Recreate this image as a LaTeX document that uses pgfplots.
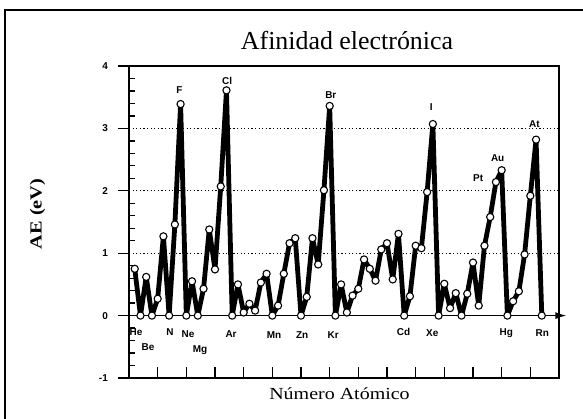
\documentclass[border=0pt]{standalone}
\usepackage{fontspec}
\setmainfont{Liberation Serif}
\setsansfont{Liberation Sans}
\usepackage{pgfplots}
\pgfplotsset{compat=1.18}
\usetikzlibrary{arrows.meta}
\begin{document}
\begin{tikzpicture}
\begin{axis}[
  at={(0,0)}, anchor=south west,
  scale only axis, width=430bp, height=312bp,
  xmin=0, xmax=75, ymin=-1, ymax=4,
  axis line style={line width=1.3bp},
  tick align=inside,
  xtick={5,10,...,70}, xticklabels={},
  xtick pos=left, ytick pos=left,
  ytick={-1,0,1,2,3,4}, yticklabels={-1,0,1,2,3,4},
  minor y tick num=4,
  major tick length=11bp, minor tick length=6bp,
  tick style={black, line width=1.3bp},
  every major y tick/.append style={xshift=-11bp},
  yticklabel style={font=\sffamily\bfseries\fontsize{10}{12}\selectfont, anchor=east, inner sep=0pt, xshift=-21bp},
  ymajorgrids, grid style={black, line width=0.8bp, dash pattern=on 1.2bp off 2.4bp},
  clip=false,
]
\draw[line width=1.5bp, -{Latex[length=11bp,width=7bp]}] (axis cs:0,0) -- (axis cs:76.3,0);
\addplot[black, line width=4.8bp, line join=round, mark=*, mark size=3.6bp,
  mark options={fill=white, draw=black, line width=1.1bp, solid}] coordinates {
(1,0.75) (2,0) (3,0.62) (4,0) (5,0.27) (6,1.27) (7,0) (8,1.46) (9,3.39) (10,0)
(11,0.55) (12,0) (13,0.43) (14,1.38) (15,0.74) (16,2.07) (17,3.61) (18,0)
(19,0.50) (20,0.05) (21,0.19) (22,0.08) (23,0.53) (24,0.67) (25,0) (26,0.16)
(27,0.67) (28,1.16) (29,1.24) (30,0) (31,0.30) (32,1.24) (33,0.82) (34,2.01)
(35,3.36) (36,0) (37,0.50) (38,0.05) (39,0.32) (40,0.43) (41,0.90) (42,0.75)
(43,0.56) (44,1.06) (45,1.16) (46,0.58) (47,1.31) (48,0) (49,0.31) (50,1.12)
(51,1.08) (52,1.98) (53,3.07) (54,0) (55,0.51) (56,0.12) (57,0.36) (58,0)
(59,0.35) (60,0.85) (61,0.16) (62,1.12) (63,1.58) (64,2.14) (65,2.33) (66,0)
(67,0.23) (68,0.39) (69,0.98) (70,1.92) (71,2.82) (72,0)
};
\begin{scope}[every node/.style={font=\sffamily\bfseries\fontsize{10}{12}\selectfont, inner sep=0pt}]
\node at (axis cs:1.22,-0.26) {He};
\node at (axis cs:3.31,-0.51) {Be};
\node at (axis cs:7.15,-0.26) {N};
\node at (axis cs:10.3,-0.30) {Ne};
\node at (axis cs:12.4,-0.56) {Mg};
\node at (axis cs:17.8,-0.29) {Ar};
\node at (axis cs:25.3,-0.31) {Mn};
\node at (axis cs:30.2,-0.31) {Zn};
\node at (axis cs:35.6,-0.31) {Kr};
\node at (axis cs:47.9,-0.26) {Cd};
\node at (axis cs:52.9,-0.28) {Xe};
\node at (axis cs:65.8,-0.28) {Hg};
\node at (axis cs:72.1,-0.28) {Rn};
\node at (axis cs:8.8,3.61) {F};
\node at (axis cs:17.1,3.76) {Cl};
\node at (axis cs:35.2,3.53) {Br};
\node at (axis cs:52.7,3.34) {I};
\node at (axis cs:70.7,3.07) {At};
\node at (axis cs:64.3,2.52) {Au};
\node at (axis cs:60.9,2.20) {Pt};
\end{scope}
\end{axis}
\node[font=\fontsize{26}{30}\selectfont, anchor=base] at (218bp,328bp) {Afinidad electrónica};
\node[font=\bfseries\fontsize{17}{20}\selectfont, rotate=90, xscale=1.2] at (-91.5bp,164bp) {AE (eV)};
\node[font=\fontsize{17}{20}\selectfont, xscale=1.18, anchor=base] at (210.5bp,-21.3bp) {Número Atómico};
\draw[line width=1.8bp] (-124bp,-41bp) -- (-124bp,368bp) -- (454bp,368bp);
\pgfresetboundingbox
\useasboundingbox (-129bp,-41bp) rectangle (454bp,378bp);
\end{tikzpicture}
\end{document}
